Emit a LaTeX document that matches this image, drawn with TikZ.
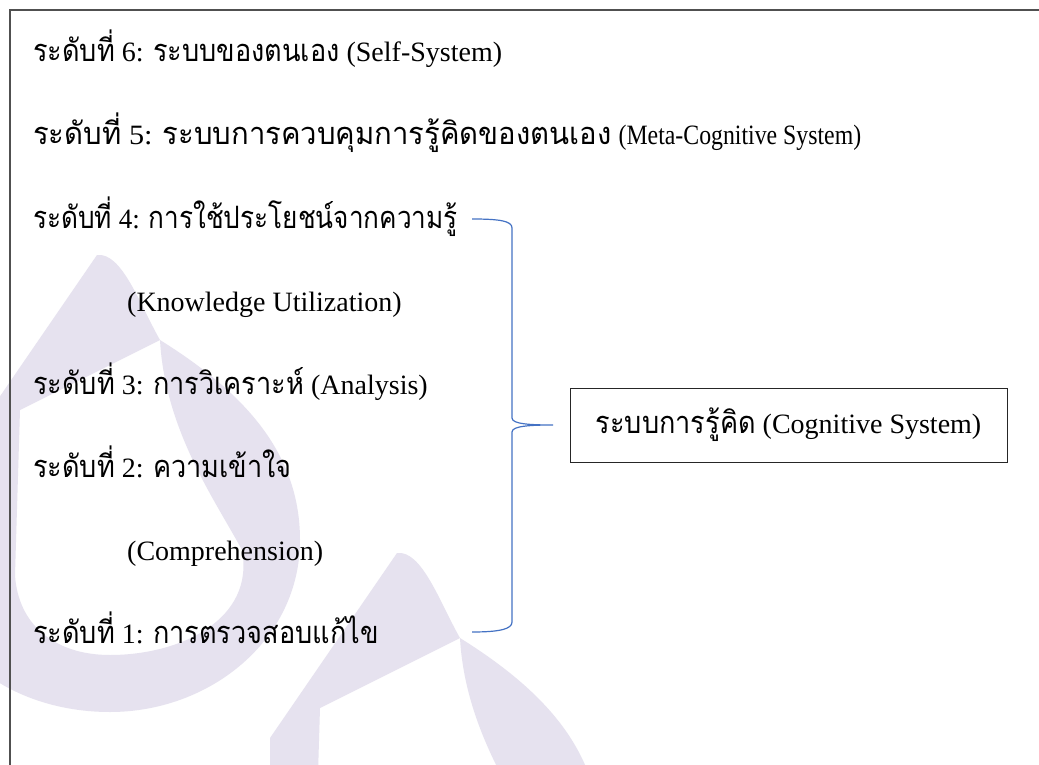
\documentclass[tikz,border=0pt]{standalone}
\usepackage{fontspec}
\setmainfont{Liberation Serif}
\newfontfamily\thfont[Script=Thai,Scale=1.1]{Loma}
\newcommand{\T}[1]{\scalebox{0.88}[1]{\thfont #1}}
\newcommand{\wmlogo}{%
  \fill[wm, even odd rule]
    (97,255) .. controls (122,252) and (140,305) .. (160,340)
    .. controls (240,390) and (300,450) .. (300,540)
    .. controls (300,640) and (210,712) .. (110,712)
    .. controls (50,712) and (0,690) .. (-30,660) -- (-30,440) -- cycle
    (20,410) -- (160,340) .. controls (165,430) and (215,500) .. (242,550)
    .. controls (255,620) and (180,655) .. (110,655)
    .. controls (55,655) and (18,625) .. (15,575) -- cycle;}
\definecolor{wm}{HTML}{E6E2EF}
\definecolor{brc}{HTML}{4472C4}
\definecolor{frm}{HTML}{505050}
\begin{document}
\begin{tikzpicture}[x=1pt,y=-1pt,
  lvl/.style={anchor=base west, inner sep=0pt, font=\fontsize{28}{34}\selectfont},
  brace/.style={draw=brc, line width=1.2pt},
  frame/.style={draw=frm, line width=1.5pt},
  cogbox/.style={draw=black!85, line width=1pt, minimum width=437pt, minimum height=74pt, inner sep=0pt, font=\fontsize{28}{34}\selectfont}]
\useasboundingbox (0,0) rectangle (1039,765);
\fill[white] (0,0) rectangle (1039,765);
% watermark (tiled logo, approximate)
\begin{scope}
\clip (0,0) rectangle (1039,765);
\wmlogo
\begin{scope}[shift={(300,298)}]
\wmlogo
\end{scope}
\end{scope}
% frame
\draw[frame] (10,765) -- (10,10) -- (1039,10);
% levels
\node[lvl] (l6) at (33,62) {\T{ระดับที่} 6: \T{ระบบของตนเอง} (Self-System)};
\node[lvl] (l5) at (33,145) {\scalebox{1.08}[1]{\T{ระดับที่} 5: \T{ระบบการควบคุมการรู้คิดของตนเอง}} \scalebox{0.85}[1]{(Meta-Cognitive System)}};
\node[lvl] (l4) at (33,228) {\scalebox{0.965}[1]{\T{ระดับที่} 4: \T{การใช้ประโยชน์จากความรู้}}};
\node[lvl] (l4e) at (127,311) {(Knowledge Utilization)};
\node[lvl] (l3) at (33,394) {\T{ระดับที่} 3: \T{การวิเคราะห์} (Analysis)};
\node[lvl] (l2) at (33,477) {\T{ระดับที่} 2: \T{ความเข้าใจ}};
\node[lvl] (l2e) at (127,560) {(Comprehension)};
\node[lvl] (l1) at (33,643) {\T{ระดับที่} 1: \T{การตรวจสอบแก้ไข}};
% box
\node[cogbox] (cog) at (788.5,425) {\T{ระบบการรู้คิด} (Cognitive System)};
% brace
\coordinate (bTop) at (472,219);
\coordinate (bBot) at (472,632);
\coordinate (bTip) at (553,425);
\draw[brace] (bTop) .. controls +(28,0) and +(0,-7) .. (512,228) -- (512,418)
  .. controls +(0,6) and +(-23,0) .. (bTip)
  .. controls +(-23,0) and +(0,-6) .. (512,432) -- (512,622)
  .. controls +(0,7) and +(28,0) .. (bBot);
\end{tikzpicture}
\end{document}
